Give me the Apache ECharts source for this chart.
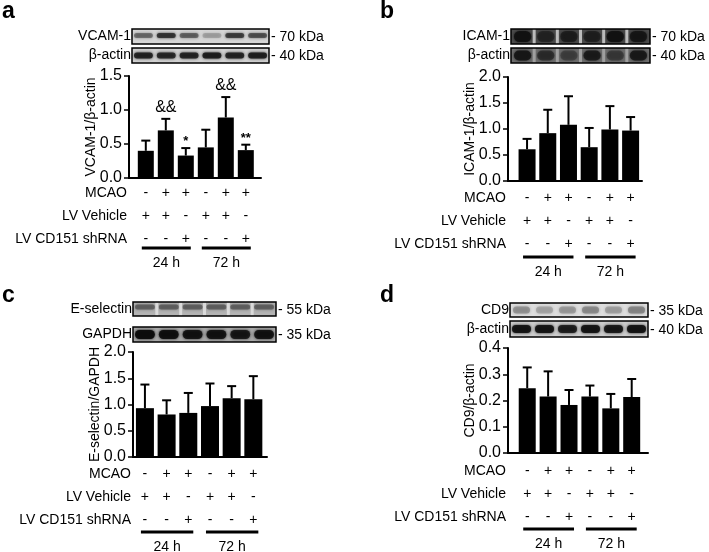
<!DOCTYPE html>
<html>
<head>
<meta charset="utf-8">
<script src="https://cdn.jsdelivr.net/npm/echarts@6/dist/echarts.min.js"></script>
<style>
  html, body { margin: 0; padding: 0; background: #fff; }
  #chart { width: 709px; height: 552px; }
</style>
</head>
<body>
<div id="chart"></div>
<script>
const FONT = 'Arial, "Liberation Sans", Helvetica, sans-serif'

// treatment table under every panel
const rowNames = ['MCAO', 'LV Vehicle', 'LV CD151 shRNA']
const rowMcao = ['-', '+', '+', '-', '+', '+']
const rowVehicle = ['+', '+', '-', '+', '+', '-']
const rowShrna = ['-', '-', '+', '-', '-', '+']
const timeGroups = ['24 h', '72 h']

// a: VCAM-1
const vcamMean = [0.40, 0.70, 0.33, 0.45, 0.89, 0.41]
const vcamSd = [0.15, 0.17, 0.11, 0.26, 0.30, 0.08]
const vcamMarks = ['', '&&', '*', '', '&&', '**']
// b: ICAM-1
const icamMean = [0.61, 0.92, 1.08, 0.65, 0.99, 0.97]
const icamSd = [0.20, 0.45, 0.55, 0.37, 0.45, 0.26]
// c: E-selectin
const eselMean = [0.93, 0.81, 0.84, 0.97, 1.12, 1.10]
const eselSd = [0.45, 0.27, 0.38, 0.43, 0.23, 0.44]
// d: CD9
const cd9Mean = [0.247, 0.215, 0.183, 0.215, 0.170, 0.213]
const cd9Sd = [0.079, 0.096, 0.057, 0.042, 0.055, 0.069]
const noMarks = ['', '', '', '', '', '']

const panels = [
  { letter: 'a', lx: 2, ly: 12, grid: { left: 129, top: 76, width: 132, height: 102 }, xMin: -0.84, xMax: 5.76,
    yMax: 1.5, yInt: 0.5, name: 'VCAM-1/β-actin', mean: vcamMean, sd: vcamSd, marks: vcamMarks, barW: 16,
    margin: 4, lineOff: 70,
    blots: [
      { label: 'VCAM-1', kda: '- 70 kDa', x: 132, y: 29, w: 137, h: 15, bg: '#d6d6d6', band: '#2a2a2a', bh: 5, pad: 2, dy: -1, op: [0.45, 0.85, 0.5, 0.2, 0.75, 0.6] },
      { label: 'β-actin', kda: '- 40 kDa', x: 132, y: 48, w: 137, h: 15, bg: '#d0d0d0', band: '#1a1a1a', bh: 6, pad: 2, op: [0.85, 0.8, 0.85, 0.9, 0.85, 0.9] }
    ] },
  { letter: 'b', lx: 380, ly: 12, grid: { left: 508, top: 77, width: 134, height: 104 }, xMin: -0.92, xMax: 5.55,
    yMax: 2.0, yInt: 0.5, name: 'ICAM-1/β-actin', mean: icamMean, sd: icamSd, marks: noMarks, barW: 17,
    margin: 6, lineOff: 76,
    blots: [
      { label: 'ICAM-1', kda: '- 70 kDa', x: 511, y: 29, w: 139, h: 15, bg: '#4c4c4c', band: '#111', bh: 11, pad: 3, op: [0.9, 0.5, 0.6, 0.55, 0.9, 0.8], strip: '#cfcfcf' },
      { label: 'β-actin', kda: '- 40 kDa', x: 511, y: 48, w: 139, h: 15, bg: '#6e6e6e', band: '#151515', bh: 10, pad: 3, op: [0.9, 0.55, 0.35, 0.8, 0.4, 0.85], strip: '#a8a8a8' }
    ] },
  { letter: 'c', lx: 2, ly: 296, grid: { left: 133, top: 352, width: 134, height: 105 }, xMin: -0.55, xMax: 5.63,
    yMax: 2.0, yInt: 0.5, name: 'E-selectin/GAPDH', mean: eselMean, sd: eselSd, marks: noMarks, barW: 18,
    margin: 6, lineOff: 75,
    blots: [
      { label: 'E-selectin', kda: '- 55 kDa', x: 133, y: 302, w: 143, h: 14, bg: '#b4b4b4', band: '#505050', bh: 5, pad: 2, dy: -2, op: [0.7, 0.7, 0.7, 0.7, 0.7, 0.7], strip: '#e2e2e2' },
      { label: 'GAPDH', kda: '- 35 kDa', x: 133, y: 327, w: 143, h: 15, bg: '#a8a8a8', band: '#0c0c0c', bh: 9, pad: 2, op: [0.95, 0.9, 0.85, 0.85, 0.8, 0.85] }
    ] },
  { letter: 'd', lx: 380, ly: 296, grid: { left: 508, top: 348, width: 140, height: 105 }, xMin: -0.92, xMax: 5.78,
    yMax: 0.4, yInt: 0.1, name: 'CD9/β-actin', mean: cd9Mean, sd: cd9Sd, marks: noMarks, barW: 17,
    margin: 7, lineOff: 76,
    blots: [
      { label: 'CD9', kda: '- 35 kDa', x: 510, y: 303, w: 138, h: 14, bg: '#dedede', band: '#7a7a7a', bh: 7, pad: 3, op: [0.6, 0.4, 0.5, 0.7, 0.45, 0.75] },
      { label: 'β-actin', kda: '- 40 kDa', x: 510, y: 321, w: 138, h: 16, bg: '#cccccc', band: '#111', bh: 8, pad: 2, op: [0.9, 0.9, 0.8, 0.9, 0.85, 0.9] }
    ] }
]

const chart = echarts.init(document.getElementById('chart'), null, { renderer: 'canvas' })

const grids = [], xAxes = [], yAxes = [], series = []
panels.forEach((p, i) => {
  grids.push(Object.assign({ containLabel: false }, p.grid))
  xAxes.push({
    type: 'value', gridIndex: i, min: p.xMin, max: p.xMax,
    axisLine: { show: true, onZero: false, lineStyle: { color: '#000', width: 2 } },
    axisTick: { show: false },
    splitLine: { show: false },
    axisLabel: {
      customValues: [0, 1, 2, 3, 4, 5],
      margin: p.margin,
      fontFamily: FONT, fontSize: 14, color: '#000', lineHeight: 23,
      formatter: v => {
        const k = Math.round(v)
        return rowMcao[k] + '\n' + rowVehicle[k] + '\n' + rowShrna[k]
      }
    }
  })
  yAxes.push({
    type: 'value', gridIndex: i, min: 0, max: p.yMax, interval: p.yInt,
    axisLine: { show: true, onZero: false, lineStyle: { color: '#000', width: 2 } },
    axisTick: { show: true, length: 5, lineStyle: { color: '#000', width: 1.5 } },
    splitLine: { show: false },
    axisLabel: { fontFamily: FONT, fontSize: 16, color: '#000', margin: 7, formatter: v => v.toFixed(1) },
    name: p.name, nameLocation: 'middle', nameGap: 31, nameMoveOverlap: false,
    nameTextStyle: { fontFamily: FONT, fontSize: 14, color: '#000' }
  })
  series.push({
    type: 'bar', xAxisIndex: i, yAxisIndex: i, barWidth: p.barW,
    itemStyle: { color: '#000' },
    data: p.mean.map((v, k) => [k, v])
  })
  series.push({
    type: 'custom', xAxisIndex: i, yAxisIndex: i, z: 5,
    data: p.mean.map((v, k) => [k, v, p.sd[k]]),
    renderItem: (params, api) => {
      const x = api.value(0), m = api.value(1), sd = api.value(2)
      const base = api.coord([x, m])
      const top = api.coord([x, m + sd])
      const hw = 4.5
      const children = [
        { type: 'line', shape: { x1: base[0], y1: base[1], x2: top[0], y2: top[1] }, style: { stroke: '#000', lineWidth: 2 } },
        { type: 'line', shape: { x1: top[0] - hw, y1: top[1], x2: top[0] + hw, y2: top[1] }, style: { stroke: '#000', lineWidth: 2 } }
      ]
      const mark = p.marks[params.dataIndex]
      if (mark) {
        const star = mark.indexOf('*') >= 0
        children.push({
          type: 'text',
          style: {
            text: mark, x: top[0], y: top[1] - (star ? 0 : 3),
            align: 'center', verticalAlign: 'bottom',
            fontFamily: FONT, fontSize: star ? 13 : 16, fontWeight: star ? 'bold' : 'normal', fill: '#000'
          }
        })
      }
      return { type: 'group', children }
    }
  })
})

chart.setOption({
  animation: false,
  backgroundColor: '#fff',
  grid: grids,
  xAxis: xAxes,
  yAxis: yAxes,
  series: series
})

function txt(text, x, y, align, size, weight) {
  return {
    type: 'text', z: 20,
    style: { text, x, y, align, verticalAlign: 'middle', fontFamily: FONT, fontSize: size || 14, fontWeight: weight || 'normal', fill: '#000' }
  }
}

function blot(b) {
  const els = []
  els.push({ type: 'rect', z: 10, shape: { x: b.x, y: b.y, width: b.w, height: b.h }, style: { fill: b.bg } })
  const lw = b.w / 6
  b.op.forEach((a, k) => {
    els.push({
      type: 'rect', z: 11,
      shape: { x: b.x + k * lw + b.pad, y: b.y + b.h / 2 - b.bh / 2 + (b.dy || 0), width: lw - 2 * b.pad, height: b.bh, r: b.bh / 2 },
      style: { fill: b.band, opacity: a, shadowBlur: 3, shadowColor: b.band }
    })
  })
  if (b.strip) {
    for (let k = 1; k < 6; k++) {
      els.push({ type: 'rect', z: 12, shape: { x: b.x + k * lw - 1.5, y: b.y, width: 3, height: b.h }, style: { fill: b.strip, opacity: 0.85 } })
    }
  }
  els.push({ type: 'rect', z: 13, shape: { x: b.x, y: b.y, width: b.w, height: b.h }, style: { fill: 'none', stroke: '#000', lineWidth: 1.5 } })
  els.push(txt(b.label, b.x - 1, b.y + b.h / 2, 'right'))
  els.push(txt(b.kda, b.x + b.w + 2, b.y + b.h / 2 + 1, 'left'))
  return els
}

const graphic = []
panels.forEach((p, i) => {
  graphic.push(txt(p.letter, p.lx, p.ly, 'left', 23, 'bold'))
  p.blots.forEach(b => { graphic.push(...blot(b)) })
  const bottom = p.grid.top + p.grid.height
  const row0 = bottom + p.margin + 11.5
  rowNames.forEach((name, r) => {
    graphic.push(txt(name, p.grid.left - 2, row0 + r * 23, 'right'))
  })
  const px = v => chart.convertToPixel({ xAxisIndex: i }, v)
  const lineY = bottom + p.lineOff
  timeGroups.forEach((t, g) => {
    const x1 = px(g * 3) - 4
    const x2 = px(g * 3 + 2) + 5
    graphic.push({ type: 'rect', z: 20, shape: { x: x1, y: lineY - 1.5, width: x2 - x1, height: 3 }, style: { fill: '#000' } })
    graphic.push(txt(t, (x1 + x2) / 2, lineY + 15, 'center'))
  })
})

chart.setOption({ graphic: graphic })
</script>
</body>
</html>
